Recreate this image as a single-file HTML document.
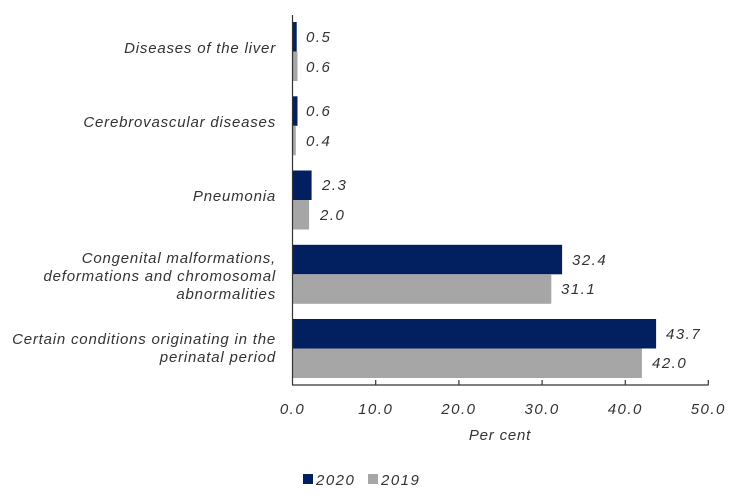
<!DOCTYPE html><html><head><style>body{margin:0;background:#fff}</style></head><body>
<svg width="732" height="496" xmlns="http://www.w3.org/2000/svg" font-family="Liberation Sans, sans-serif" font-style="italic" font-size="15" fill="#333" letter-spacing="0.8">
<g id="bars">
<rect x="292.5" y="22" width="4.2" height="29.5" fill="#022060"/><rect x="292.5" y="51.5" width="5" height="29.5" fill="#a6a6a6"/>
<rect x="292.5" y="96.3" width="5" height="29.5" fill="#022060"/><rect x="292.5" y="125.8" width="3.3" height="29.5" fill="#a6a6a6"/>
<rect x="292.5" y="170.5" width="19.1" height="29.5" fill="#022060"/><rect x="292.5" y="200" width="16.6" height="29.5" fill="#a6a6a6"/>
<rect x="292.5" y="244.8" width="269.6" height="29.5" fill="#022060"/><rect x="292.5" y="274.3" width="258.8" height="29.5" fill="#a6a6a6"/>
<rect x="292.5" y="319" width="363.6" height="29.5" fill="#022060"/><rect x="292.5" y="348.5" width="349.4" height="29.5" fill="#a6a6a6"/>
</g>
<g stroke="#333" stroke-width="1.2"><line x1="292.5" y1="15" x2="292.5" y2="385"/><line x1="292" y1="385" x2="708.5" y2="385"/>
<line x1="375.7" y1="380" x2="375.7" y2="385"/><line x1="458.9" y1="380" x2="458.9" y2="385"/><line x1="542.1" y1="380" x2="542.1" y2="385"/><line x1="625.3" y1="380" x2="625.3" y2="385"/><line x1="708.3" y1="380" x2="708.3" y2="385"/></g>
<g letter-spacing="1.5">
<text x="306" y="42">0.5</text><text x="306" y="72">0.6</text>
<text x="306" y="116">0.6</text><text x="306" y="146">0.4</text>
<text x="322" y="190">2.3</text><text x="320" y="220">2.0</text>
<text x="572" y="265">32.4</text><text x="561" y="294">31.1</text>
<text x="666" y="339">43.7</text><text x="652" y="368">42.0</text>
</g>
<g text-anchor="end">
<text x="276" y="53">Diseases of the liver</text>
<text x="276" y="127">Cerebrovascular diseases</text>
<text x="276" y="201">Pneumonia</text>
<text x="276" y="263">Congenital malformations,</text>
<text x="276" y="281">deformations and chromosomal</text>
<text x="276" y="299">abnormalities</text>
<text x="276" y="344">Certain conditions originating in the</text>
<text x="276" y="362">perinatal period</text>
</g>
<g text-anchor="middle" letter-spacing="1.5">
<text x="292.5" y="414">0.0</text><text x="375.7" y="414">10.0</text><text x="458.9" y="414">20.0</text><text x="542.1" y="414">30.0</text><text x="625.3" y="414">40.0</text><text x="708.3" y="414">50.0</text>
<text x="500" y="440" letter-spacing="0.8">Per cent</text>
</g>
<rect x="303" y="474" width="10" height="10" fill="#022060"/><text x="316" y="485" letter-spacing="1.5">2020</text>
<rect x="368" y="474" width="10" height="10" fill="#a6a6a6"/><text x="381" y="485" letter-spacing="1.5">2019</text>
</svg></body></html>
